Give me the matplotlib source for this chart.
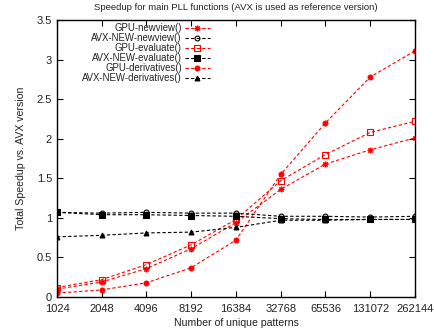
import matplotlib
matplotlib.use("Agg")
import matplotlib.pyplot as plt
from matplotlib.ticker import FixedLocator, FixedFormatter, NullLocator

plt.rcParams['font.family'] = ['Liberation Sans', 'DejaVu Sans']

patterns = [1024, 2048, 4096, 8192, 16384, 32768, 65536, 131072, 262144]
tick_labels = [str(p) for p in patterns]

gpu_newview = [0.10, 0.19, 0.36, 0.61, 0.94, 1.36, 1.68, 1.86, 2.01]
avx_newview = [1.07, 1.06, 1.07, 1.06, 1.06, 1.02, 1.02, 1.01, 1.02]
gpu_evaluate = [0.12, 0.22, 0.41, 0.66, 0.98, 1.47, 1.80, 2.08, 2.22]
avx_evaluate = [1.07, 1.04, 1.04, 1.03, 1.02, 0.99, 0.98, 0.98, 0.98]
gpu_derivatives = [0.05, 0.09, 0.18, 0.37, 0.72, 1.55, 2.20, 2.78, 3.11]
avx_derivatives = [0.76, 0.78, 0.81, 0.82, 0.88, 0.97, 0.97, 0.98, 0.98]

fig = plt.figure(figsize=(4.35, 3.33), dpi=100)
ax = fig.add_axes([0.131, 0.108, 0.823, 0.832])

dash = (0, (3, 2))
red = '#ff0000'
txt = '#222222'
series = [
    ('GPU-newview()', gpu_newview, red, (8, 2, 0), 'none', 4),
    ('AVX-NEW-newview()', avx_newview, 'black', 'o', 'none', 3.5),
    ('GPU-evaluate()', gpu_evaluate, red, 's', 'none', 4),
    ('AVX-NEW-evaluate()', avx_evaluate, 'black', 's', 'black', 4),
    ('GPU-derivatives()', gpu_derivatives, red, 'o', red, 3.5),
    ('AVX-NEW-derivatives()', avx_derivatives, 'black', '^', 'black', 3.5),
]
for label, vals, col, mk, fc, ms in series:
    ax.plot(patterns, vals, color=col, linestyle=dash, linewidth=0.8,
            marker=mk, markersize=ms, markerfacecolor=fc, markeredgecolor=col,
            markeredgewidth=0.8, label=label)

ax.set_xscale('log', base=2)
ax.set_xlim(1024, 262144)
ax.set_ylim(0, 3.5)
ax.xaxis.set_major_locator(FixedLocator(patterns))
ax.xaxis.set_major_formatter(FixedFormatter(tick_labels))
ax.xaxis.set_minor_locator(NullLocator())
ax.set_yticks([0, 0.5, 1, 1.5, 2, 2.5, 3, 3.5])
ax.set_yticklabels(['0', '0.5', '1', '1.5', '2', '2.5', '3', '3.5'])
ax.tick_params(direction='in', top=True, right=True, labelsize=8, length=4, width=0.8,
               color='black', labelcolor=txt)
ax.tick_params(axis='x', pad=5)
for s in ax.spines.values():
    s.set_linewidth(1.0)

ax.set_title('Speedup for main PLL functions (AVX is used as reference version)',
             fontsize=6.8, pad=7, color=txt)
ax.set_xlabel('Number of unique patterns', fontsize=7.6, labelpad=3, color=txt)
ax.set_ylabel('Total Speedup vs. AVX version', fontsize=7.6, labelpad=8, color=txt)

leg = ax.legend(loc='upper right', bbox_to_anchor=(0.436, 1.0), frameon=False, fontsize=6.9,
                markerfirst=False, handlelength=2.6, handletextpad=0.3,
                labelspacing=0.0, borderaxespad=0.0, borderpad=0.35)
for t in leg.get_texts():
    t.set_ha('right')
    t.set_color(txt)
leg._legend_box.align = 'right'

fig.savefig('out.png', dpi=100)
